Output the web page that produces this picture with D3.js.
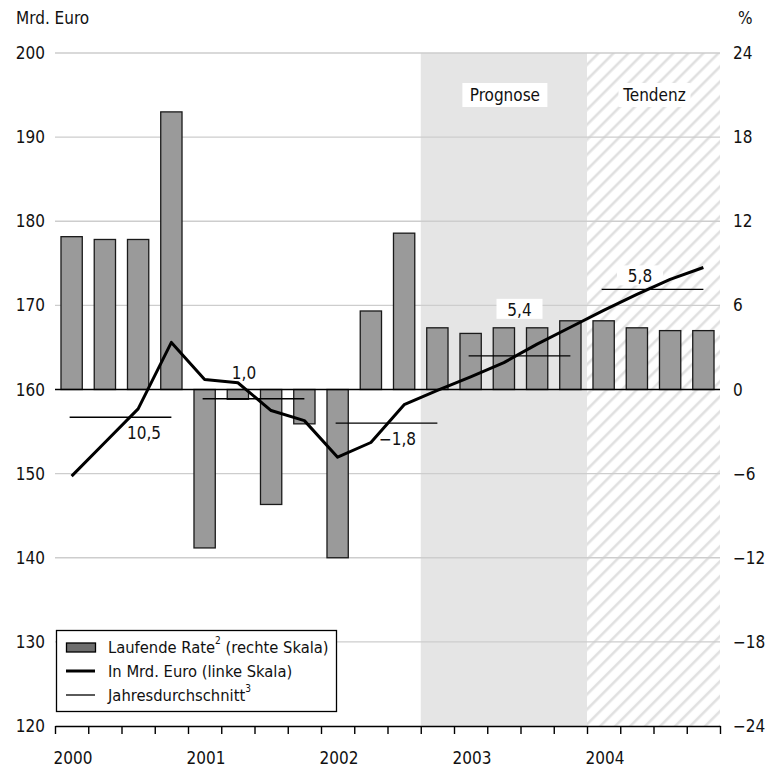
<!DOCTYPE html>
<html>
<head>
<meta charset="utf-8">
<script src="https://cdn.jsdelivr.net/npm/d3@7"></script>
<style>
  body { margin: 0; background: #fff; }
  svg text { font-family: "Liberation Sans Narrow", "Arial Narrow", "DejaVu Sans Condensed", sans-serif; font-size: 17px; fill: #111; }
  svg .legend text { font-size: 16.4px; }
</style>
</head>
<body>
<svg id="chart" width="781" height="770"></svg>
<script>
// quarters 2000Q1 .. 2004Q4
var years = ['2000', '2001', '2002', '2003', '2004'];
var quarters = d3.range(20);

// Laufende Rate in % (right scale)
var rateValues = [10.9, 10.7, 10.7, 19.8,
                  -11.3, -0.7, -8.2, -2.45,
                  -12.0, 5.6, 11.15, 4.4,
                  4.0, 4.4, 4.4, 4.9,
                  4.9, 4.4, 4.2, 4.2];

// In Mrd. Euro (left scale)
var euroValues = [149.7, 153.7, 157.7, 165.6,
                  161.2, 160.8, 157.5, 156.3,
                  151.95, 153.7, 158.2, 159.9,
                  161.5, 163.2, 165.4, 167.4,
                  169.4, 171.3, 173.1, 174.5];

// Jahresdurchschnitt (Mrd. Euro) and its label
var avgValues = [156.7, 158.9, 156.0, 164.0, 171.9];
var avgLabels = ['10,5', '1,0', '\u22121,8', '5,4', '5,8'];

var leftTicks = [120, 130, 140, 150, 160, 170, 180, 190, 200];
var rightTicks = [-24, -18, -12, -6, 0, 6, 12, 18, 24];

var svg = d3.select('#chart');
var pLeft = 55, pRight = 720, pTop = 53, pBottom = 726;

var xq = d3.scaleLinear().domain([0, 20]).range([pLeft, pRight]);
var x = d3.scaleBand().domain(quarters).range([pLeft, pRight]).paddingInner(0.36).paddingOuter(0.18);
var xc = function(i) { return xq(i + 0.5); };
var yL = d3.scaleLinear().domain([120, 200]).range([pBottom, pTop]);
var yR = d3.scaleLinear().domain([-24, 24]).range([pBottom, pTop]);

function fmt(v) { return v < 0 ? '\u2212' + Math.abs(v) : String(v); }

// hatch pattern for Tendenz
var defs = svg.append('defs');
defs.append('pattern')
  .attr('id', 'hatch')
  .attr('patternUnits', 'userSpaceOnUse')
  .attr('width', 10.6).attr('height', 10.6)
  .attr('patternTransform', 'rotate(45)')
  .append('line')
  .attr('x1', 5).attr('y1', 0).attr('x2', 5).attr('y2', 10.6)
  .style('stroke', '#e0e0e0').style('stroke-width', 2.6);

// Prognose (2002Q4 - 2003Q4) and Tendenz (2004)
svg.append('rect')
  .attr('x', xq(11)).attr('y', pTop)
  .attr('width', xq(16) - xq(11)).attr('height', pBottom - pTop)
  .attr('fill', '#e5e5e5');
svg.append('rect')
  .attr('x', xq(16)).attr('y', pTop)
  .attr('width', xq(20) - xq(16)).attr('height', pBottom - pTop)
  .attr('fill', 'url(#hatch)');

// gridlines
svg.append('g').selectAll('line')
  .data(leftTicks.filter(function(d) { return d != 120 && d != 160; }))
  .enter().append('line')
  .attr('x1', pLeft).attr('x2', pRight)
  .attr('y1', function(d) { return yL(d); })
  .attr('y2', function(d) { return yL(d); })
  .style('stroke', '#cdcdcd').style('stroke-width', 1.4);

// period labels
var periods = [{ name: 'Prognose', a: 11, b: 16, w: 85 }, { name: 'Tendenz', a: 16, b: 20, w: 72 }];
var pg = svg.append('g').selectAll('g').data(periods).enter().append('g');
pg.append('rect')
  .attr('x', function(d) { return (xq(d.a) + xq(d.b)) / 2 - d.w / 2 + 1; })
  .attr('y', 83).attr('width', function(d) { return d.w; }).attr('height', 24)
  .attr('fill', '#fff');
pg.append('text')
  .attr('x', function(d) { return (xq(d.a) + xq(d.b)) / 2 + 1; })
  .attr('y', 101)
  .attr('text-anchor', 'middle')
  .text(function(d) { return d.name; });

// bars (right scale)
svg.append('g').selectAll('rect')
  .data(rateValues)
  .enter().append('rect')
  .attr('x', function(d, i) { return x(i); })
  .attr('width', x.bandwidth())
  .attr('y', function(d) { return d > 0 ? yR(d) : yR(0); })
  .attr('height', function(d) { return Math.abs(yR(d) - yR(0)); })
  .attr('fill', '#9a9a9a')
  .style('stroke', '#1a1a1a').style('stroke-width', 1.3);

// zero line
svg.append('line')
  .attr('x1', pLeft).attr('x2', pRight)
  .attr('y1', yR(0)).attr('y2', yR(0))
  .style('stroke', '#000').style('stroke-width', 1.4);

// annual averages
var avgG = svg.append('g');
avgG.selectAll('line')
  .data(avgValues)
  .enter().append('line')
  .attr('x1', function(d, i) { return xc(i * 4) - 2; })
  .attr('x2', function(d, i) { return xc(i * 4 + 3); })
  .attr('y1', function(d) { return yL(d); })
  .attr('y2', function(d) { return yL(d); })
  .style('stroke', '#000').style('stroke-width', 1.3);

// average labels (offset from the middle of each year)
var labelOff = [[22.5, 21.5, false], [-10.5, -20, false], [10, 22, false], [-1, -40, true], [-13.5, -7, true]];
var lab = svg.append('g').selectAll('g')
  .data(avgValues)
  .enter().append('g')
  .attr('transform', function(d, i) {
    var cx = (xc(i * 4) + xc(i * 4 + 3)) / 2 + labelOff[i][0];
    return 'translate(' + cx + ',' + (yL(d) + labelOff[i][1]) + ')';
  });
lab.filter(function(d, i) { return labelOff[i][2]; })
  .append('rect')
  .attr('x', -23).attr('y', -17).attr('width', 46).attr('height', 20)
  .attr('fill', '#fff');
lab.append('text')
  .attr('text-anchor', 'middle')
  .text(function(d, i) { return avgLabels[i]; });

// main line
var line = d3.line()
  .x(function(d, i) { return xc(i); })
  .y(function(d) { return yL(d); });
svg.append('path')
  .datum(euroValues)
  .attr('d', line)
  .attr('fill', 'none')
  .style('stroke', '#000').style('stroke-width', 3)
  .style('stroke-linejoin', 'round');

// bottom axis
var xAxis = d3.axisBottom(xq)
  .tickValues(d3.range(21))
  .tickSize(8)
  .tickSizeOuter(0)
  .tickFormat(function(d) { return d % 4 == 0 && d < 20 ? years[d / 4] : ''; });
var gx = svg.append('g')
  .attr('transform', 'translate(0,' + pBottom + ')')
  .call(xAxis);
gx.attr('font-family', null).attr('font-size', null);
gx.select('.domain').style('stroke', '#000').style('stroke-width', 1.4);
gx.selectAll('.tick line').style('stroke', '#000').style('stroke-width', 1.4);
gx.selectAll('.tick text')
  .attr('text-anchor', 'start')
  .attr('x', -2).attr('y', 38).attr('dy', 0);

// left axis labels
svg.append('g').selectAll('text')
  .data(leftTicks)
  .enter().append('text')
  .attr('x', 45)
  .attr('y', function(d) { return yL(d); })
  .attr('dy', '0.36em')
  .attr('text-anchor', 'end')
  .text(function(d) { return d; });

// right axis labels
svg.append('g').selectAll('text')
  .data(rightTicks)
  .enter().append('text')
  .attr('x', 733)
  .attr('y', function(d) { return yR(d); })
  .attr('dy', '0.36em')
  .text(fmt);

svg.append('text').attr('x', 16).attr('y', 24).text('Mrd. Euro');
svg.append('text').attr('x', 738).attr('y', 24).text('%');

// legend
var lg = svg.append('g').attr('class', 'legend');
lg.append('rect')
  .attr('x', 56.5).attr('y', 630.5).attr('width', 280).attr('height', 81)
  .attr('fill', '#fff').style('stroke', '#000').style('stroke-width', 1.3);
lg.append('rect')
  .attr('x', 66.5).attr('y', 643).attr('width', 29).attr('height', 9)
  .attr('fill', '#6e6e6e').style('stroke', '#000').style('stroke-width', 1.3);
lg.append('line')
  .attr('x1', 66).attr('x2', 95).attr('y1', 671).attr('y2', 671)
  .style('stroke', '#000').style('stroke-width', 3);
lg.append('line')
  .attr('x1', 66).attr('x2', 95).attr('y1', 695).attr('y2', 695)
  .style('stroke', '#000').style('stroke-width', 1.3);

var t1 = lg.append('text').attr('x', 108).attr('y', 653);
t1.append('tspan').text('Laufende Rate');
t1.append('tspan').attr('dy', -9).style('font-size', '10px').text('2');
t1.append('tspan').attr('dy', 9).text(' (rechte Skala)');
lg.append('text').attr('x', 108).attr('y', 677).text('In Mrd. Euro (linke Skala)');
var t3 = lg.append('text').attr('x', 108).attr('y', 701);
t3.append('tspan').text('Jahresdurchschnitt');
t3.append('tspan').attr('dy', -9).style('font-size', '10px').text('3');
</script>
</body>
</html>
